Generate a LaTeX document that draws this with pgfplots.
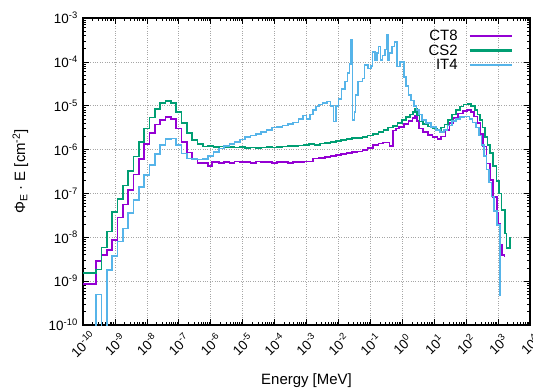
\documentclass[border=0pt]{standalone}
\usepackage{fontspec}
\setmainfont{Liberation Sans}
\usepackage{pgfplots}
\pgfplotsset{compat=1.18}
\definecolor{cPurple}{HTML}{9400D3}
\definecolor{cGreen}{HTML}{009E73}
\definecolor{cBlue}{HTML}{56B4E9}
\begin{document}
\begin{tikzpicture}
\useasboundingbox (0,0) rectangle (533bp,391bp);
\begin{axis}[
  at={(83bp,66bp)}, anchor=south west,
  scale only axis, width=447bp, height=307bp,
  xmode=log, ymode=log,
  xmin=1e-10, xmax=1e4, ymin=1e-10, ymax=1e-3,
  font=\fontsize{15}{18}\selectfont,
  xtick={1e-10,1e-9,1e-8,1e-7,1e-6,1e-5,1e-4,1e-3,1e-2,1e-1,1,1e1,1e2,1e3,1e4},
  xticklabels={10\textsuperscript{-10},10\textsuperscript{-9},10\textsuperscript{-8},10\textsuperscript{-7},10\textsuperscript{-6},10\textsuperscript{-5},10\textsuperscript{-4},10\textsuperscript{-3},10\textsuperscript{-2},10\textsuperscript{-1},10\textsuperscript{0},10\textsuperscript{1},10\textsuperscript{2},10\textsuperscript{3},10\textsuperscript{4}},
  ytick={1e-10,1e-9,1e-8,1e-7,1e-6,1e-5,1e-4,1e-3},
  yticklabels={10\textsuperscript{-10},10\textsuperscript{-9},10\textsuperscript{-8},10\textsuperscript{-7},10\textsuperscript{-6},10\textsuperscript{-5},10\textsuperscript{-4},10\textsuperscript{-3}},
  xticklabel style={font=\fontsize{13.5}{16}\selectfont, yshift=-19bp, rotate=45, anchor=center, inner sep=0pt},
  yticklabel style={font=\fontsize{13.5}{16}\selectfont, inner sep=2bp, xshift=-3bp},
  major tick length=6bp, minor tick length=3bp,
  tick style={black, line width=0.7bp},
  axis line style={line width=1.2bp},
  grid=major,
  major grid style={dotted, gray!70, line width=0.6bp},
  xlabel={Energy [MeV]},
  ylabel={Φ\textsubscript{E} · E [cm\textsuperscript{-2}]},
  xlabel style={at={(axis description cs:0.5,-0.195)}, anchor=base},
  ylabel style={at={(axis description cs:-0.14,0.5)}, anchor=center},
  legend style={at={(rel axis cs:0.962,0.966)}, anchor=north east, draw=none, fill=none, inner sep=0pt, row sep=1bp, column sep=10bp, nodes={inner sep=1bp}},
  legend cell align=right,
  legend plot pos=right,
  legend image code/.code={\draw[#1, line width=2.2bp] (0bp,0bp) -- (42bp,0bp);},
  every axis plot/.append style={line width=1.6bp, const plot},
]
\addplot[cPurple] coordinates {
(1e-10,8.5e-10) (2.61e-10,2.88e-9) (3.83e-10,3.98e-9) (5.62e-10,5.13e-9) (8.25e-10,8.71e-9)
(1.21e-9,2.82e-8) (1.78e-9,5.62e-8) (2.61e-9,1.20e-7) (3.83e-9,2.69e-7) (5.62e-9,6.03e-7)
(8.25e-9,1.32e-6) (1.21e-8,2.40e-6) (1.78e-8,3.72e-6) (2.61e-8,4.79e-6) (3.83e-8,5.50e-6)
(5.62e-8,5.01e-6) (8.25e-8,3.02e-6) (1.21e-7,1.51e-6) (1.78e-7,8.51e-7) (2.61e-7,6.03e-7)
(3.83e-7,5.01e-7) (5.62e-7,4.90e-7) (8.25e-7,4.27e-7) (1.12e-6,5.13e-7) (1.78e-6,5.01e-7)
(2.61e-6,5.25e-7) (3.83e-6,5.01e-7) (5.62e-6,5.37e-7) (8.25e-6,5.13e-7) (1.21e-5,5.25e-7)
(1.78e-5,5.01e-7) (2.61e-5,5.37e-7) (3.83e-5,5.13e-7) (5.62e-5,5.25e-7) (8.25e-5,5.01e-7)
(1.21e-4,5.13e-7) (1.78e-4,5.25e-7) (2.61e-4,5.01e-7) (3.83e-4,5.13e-7) (5.62e-4,5.25e-7)
(8.25e-4,5.37e-7) (1.58e-3,6.31e-7) (2.51e-3,6.46e-7) (3.83e-3,6.76e-7) (5.62e-3,7.08e-7)
(8.25e-3,7.41e-7) (1.21e-2,7.94e-7) (1.78e-2,8.32e-7) (2.61e-2,8.71e-7) (3.83e-2,9.12e-7)
(5.62e-2,9.77e-7) (8.25e-2,1.10e-6) (0.121,1.26e-6) (0.178,1.38e-6) (0.251,1.45e-6)
(0.398,1.20e-6) (0.501,2.75e-6) (0.631,3.02e-6) (0.794,3.31e-6) (1.12,3.80e-6)
(1.58,4.47e-6) (2.09,5.25e-6) (2.51,6.03e-6) (2.88,4.47e-6) (3.31,3.02e-6)
(4.47,2.51e-6) (6.31,2.14e-6) (8.91,1.91e-6) (12.6,1.74e-6) (16.6,2.0e-6)
(22.4,2.82e-6) (30.2,3.98e-6) (39.8,5.25e-6) (56.2,6.61e-6) (79.4,7.59e-6)
(107,7.94e-6) (141,7.08e-6) (178,5.62e-6) (224,3.98e-6) (282,2.24e-6)
(339,1.17e-6) (437,4.79e-7) (562,2.0e-7) (708,8.32e-8) (912,3.55e-8)
(1000,2.0e-8) (1148,6.92e-9) (1318,3.98e-9) (1585,3.63e-9)
};
\addlegendentry{CT8}
\addplot[cGreen] coordinates {
(1e-10,1.51e-9) (2.61e-10,1.86e-9) (3.83e-10,5.89e-9) (5.62e-10,1.35e-8) (8.25e-10,3.72e-8)
(1.21e-9,7.41e-8) (1.78e-9,1.51e-7) (2.61e-9,3.24e-7) (3.83e-9,6.92e-7) (5.62e-9,1.51e-6)
(8.25e-9,3.02e-6) (1.21e-8,5.37e-6) (1.78e-8,8.51e-6) (2.61e-8,1.15e-5) (3.83e-8,1.29e-5)
(5.62e-8,1.15e-5) (8.25e-8,7.08e-6) (1.21e-7,3.98e-6) (1.78e-7,2.40e-6) (2.61e-7,1.66e-6)
(3.83e-7,1.35e-6) (5.62e-7,1.17e-6) (8.25e-7,1.20e-6) (1.21e-6,1.15e-6) (1.78e-6,1.17e-6)
(2.61e-6,1.12e-6) (3.83e-6,1.15e-6) (5.62e-6,1.12e-6) (8.25e-6,1.15e-6) (1.21e-5,1.10e-6)
(1.78e-5,1.12e-6) (2.61e-5,1.07e-6) (3.83e-5,1.12e-6) (5.62e-5,1.15e-6) (8.25e-5,1.12e-6)
(1.21e-4,1.15e-6) (1.78e-4,1.17e-6) (2.61e-4,1.20e-6) (5.62e-4,1.23e-6) (8.25e-4,1.26e-6)
(1.21e-3,1.32e-6) (1.78e-3,1.29e-6) (2.61e-3,1.38e-6) (3.83e-3,1.41e-6) (5.62e-3,1.48e-6)
(8.25e-3,1.55e-6) (1.21e-2,1.66e-6) (1.78e-2,1.74e-6) (2.61e-2,1.82e-6) (3.83e-2,1.86e-6)
(5.62e-2,1.91e-6) (8.25e-2,2.09e-6) (0.121,2.29e-6) (0.178,2.51e-6) (0.261,2.82e-6)
(0.355,3.16e-6) (0.501,3.47e-6) (0.708,3.98e-6) (1.0,4.79e-6) (1.32,5.50e-6)
(1.74,6.31e-6) (2.19,7.24e-6) (2.51,8.32e-6) (2.88,6.03e-6) (3.47,4.37e-6)
(4.47,3.80e-6) (6.31,3.39e-6) (8.91,3.02e-6) (12.6,2.82e-6) (16.6,3.16e-6)
(20.9,3.72e-6) (27.5,4.68e-6) (36.3,6.31e-6) (47.9,7.94e-6) (63.1,9.55e-6)
(83.2,1.07e-5) (110,1.10e-5) (141,1.0e-5) (186,7.94e-6) (224,6.31e-6)
(269,4.68e-6) (324,3.16e-6) (389,1.95e-6) (468,1.26e-6) (562,8.32e-7)
(708,4.17e-7) (891,1.91e-7) (1072,1.0e-7) (1288,4.17e-8) (1660,1.23e-8)
(1862,5.62e-9) (2344,1.02e-8)
};
\addlegendentry{CS2}
\addplot[cBlue] coordinates {
(1e-10,1e-11) (2.61e-10,5.0e-10) (3.83e-10,1e-11) (5.62e-10,1.78e-9) (8.25e-10,3.80e-9)
(1.21e-9,7.94e-9) (1.78e-9,1.58e-8) (2.61e-9,3.55e-8) (3.83e-9,7.08e-8) (5.62e-9,1.41e-7)
(8.25e-9,2.63e-7) (1.21e-8,4.47e-7) (1.78e-8,7.94e-7) (2.61e-8,1.26e-6) (3.83e-8,1.74e-6)
(5.62e-8,1.78e-6) (8.25e-8,1.26e-6) (1.21e-7,8.13e-7) (1.78e-7,6.31e-7) (2.61e-7,6.03e-7)
(3.83e-7,5.89e-7) (5.62e-7,6.03e-7) (8.25e-7,7.08e-7) (1.21e-6,8.71e-7) (1.78e-6,1.05e-6)
(2.61e-6,1.20e-6) (3.83e-6,1.35e-6) (5.62e-6,1.51e-6) (8.25e-6,1.70e-6) (1.21e-5,1.91e-6)
(1.78e-5,2.09e-6) (2.61e-5,2.29e-6) (3.83e-5,2.51e-6) (5.62e-5,2.82e-6) (8.25e-5,3.16e-6)
(1.21e-4,3.31e-6) (1.78e-4,3.55e-6) (2.61e-4,3.80e-6) (3.83e-4,4.17e-6) (5.62e-4,5.01e-6)
(7.94e-4,6.03e-6) (1.0e-3,5.01e-6) (1.26e-3,6.31e-6) (1.58e-3,7.94e-6) (2.0e-3,9.55e-6)
(2.51e-3,1.07e-5) (3.16e-3,1.17e-5) (4.47e-3,1.26e-5) (5.62e-3,1.0e-5) (7.08e-3,4.37e-6)
(8.32e-3,1.0e-5) (1.0e-2,1.41e-5) (1.26e-2,2.40e-5) (1.58e-2,3.55e-5) (1.91e-2,5.62e-5)
(2.24e-2,8.91e-5) (2.51e-2,3.16e-4) (2.75e-2,4.68e-6) (3.16e-2,7.08e-6) (3.47e-2,1.78e-5)
(4.17e-2,3.55e-5) (5.62e-2,4.17e-5) (6.61e-2,8.51e-5) (8.32e-2,7.08e-5) (0.105,7.94e-5)
(0.117,1.70e-4) (0.138,1.12e-4) (0.158,1.58e-4) (0.182,2.24e-4) (0.209,1.12e-4)
(0.240,1.41e-4) (0.282,1.91e-4) (0.316,4.07e-4) (0.355,1.12e-4) (0.398,1.58e-4)
(0.479,2.24e-4) (0.575,2.82e-4) (0.692,7.76e-5) (0.832,1.0e-4) (1.15,4.47e-5)
(1.32,2.82e-5) (1.58,1.78e-5) (1.91,1.32e-5) (2.29,1.0e-5) (2.75,7.94e-6)
(3.31,6.31e-6) (4.17,4.79e-6) (5.62,3.98e-6) (7.94,3.31e-6) (11.2,2.82e-6)
(15.1,2.51e-6) (20.0,2.82e-6) (26.3,3.55e-6) (35.5,4.47e-6) (47.9,5.01e-6)
(63.1,5.50e-6) (89.1,5.62e-6) (126,5.01e-6) (158,4.17e-6) (200,3.16e-6)
(251,2.09e-6) (302,1.26e-6) (363,7.08e-7) (437,3.55e-7) (525,1.78e-7)
(631,8.51e-8) (759,3.98e-8) (912,1.91e-8) (1148,4.57e-10)
};
\addlegendentry{IT4}
\end{axis}
\end{tikzpicture}
\end{document}
